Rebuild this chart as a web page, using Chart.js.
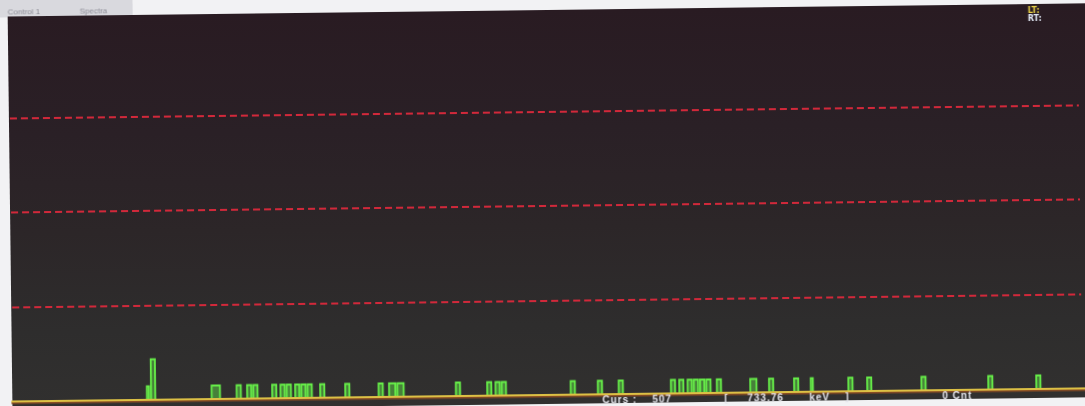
<!DOCTYPE html>
<html>
<head>
<meta charset="utf-8">
<script src="https://cdn.jsdelivr.net/npm/chart.js@4.4.1/dist/chart.umd.min.js"></script>
<style>
  html, body { margin: 0; padding: 0; width: 1085px; height: 406px; overflow: hidden; background: #f2f2f4; }
  #stage { position: absolute; left: 0; top: 0; width: 1085px; height: 406px;
           transform: rotate(-0.7deg); transform-origin: 542px 203px; }
  #tab { position: absolute; left: -10px; top: -12px; width: 145px; height: 23px; background: #d9d9de; }
  #tab span { position: absolute; top: 13px; font: 8px "Liberation Sans", Arial, sans-serif; color: #8a8a94; filter: blur(0.6px); }
  #panel { position: absolute; left: 10px; top: 10px; width: 1100px; height: 394px;
           background: linear-gradient(#291b22 0%, #2a2026 30%, #2c2628 55%, #2e2d2d 80%, #31302f 100%); }
  #chart { position: absolute; left: 0; top: 0; }
  .status { position: absolute; top: 395px; font: bold 10px "Liberation Sans", Arial, sans-serif;
            color: #e4e4ea; white-space: pre; line-height: 11px; letter-spacing: 1px; }
  .rt { position: absolute; font: bold 8px "DejaVu Sans", sans-serif; line-height: 8px; }
</style>
</head>
<body>
<div id="stage">
  <div id="tab"><span style="left:20px">Control 1</span><span style="left:92px">Spectra</span></div>
  <div id="panel"></div>
  <canvas id="chart" width="1085" height="406"></canvas>
  <div class="rt" style="left:1030px; top:13px; color:#e6cf45;">LT:</div>
  <div class="rt" style="left:1030px; top:21px; color:#dfe6f2;">RT:</div>
  <div class="status" style="left:600px;">Curs :</div>
  <div class="status" style="left:650px;">507</div>
  <div class="status" style="left:722px;">[</div>
  <div class="status" style="left:745px;">733.76</div>
  <div class="status" style="left:807px;">keV</div>
  <div class="status" style="left:843px;">]</div>
  <div class="status" style="left:940px;">0 Cnt</div>
</div>
<script>
// Display channels and the runs of channels that registered counts
const channelCount = 512;
const hitStart = [64, 66, 95, 107, 112, 115, 124, 128, 131, 135, 138, 141, 147, 159, 175, 180, 184,
                  212, 227, 231, 234, 267, 280, 290, 315, 319, 323, 326, 329, 332, 337, 353, 362,
                  374, 382, 400, 409, 435, 467, 490];
const hitWidth = [1, 2, 4, 2, 2, 2, 2, 2, 2, 2, 2, 2, 2, 2, 2, 3, 3,
                  2, 2, 2, 2, 2, 2, 2, 2, 2, 2, 2, 2, 2, 2, 3, 2,
                  2, 1, 2, 2, 2, 2, 2];
const hitCount = [1, 3, 1, 1, 1, 1, 1, 1, 1, 1, 1, 1, 1, 1, 1, 1, 1,
                  1, 1, 1, 1, 1, 1, 1, 1, 1, 1, 1, 1, 1, 1, 1, 1,
                  1, 1, 1, 1, 1, 1, 1];
const countMax = 28;
const gridStep = 7;

// Per-channel histogram (channels without a hit stay at zero)
const counts = new Array(channelCount + 1).fill(0);
hitStart.forEach((s, k) => {
  for (let c = s; c < s + hitWidth[k]; c++) counts[c] = hitCount[k];
});
const points = counts.map((v, i) => ({ x: i, y: v }));

// Yellow axis baseline drawn over the bottom of the histogram
const baseline = {
  id: 'baseline',
  afterDatasetsDraw(chart) {
    const { ctx, chartArea, scales } = chart;
    const y0 = scales.y.getPixelForValue(0);
    ctx.save();
    ctx.strokeStyle = '#8a4c22';
    ctx.lineWidth = 1.5;
    ctx.beginPath();
    ctx.moveTo(chartArea.left - 2, y0 + 1.8);
    ctx.lineTo(chart.width + 20, y0 + 1.8);
    ctx.stroke();
    ctx.strokeStyle = '#dcc045';
    ctx.lineWidth = 2;
    ctx.beginPath();
    ctx.moveTo(chartArea.left - 2, y0);
    ctx.lineTo(chart.width + 20, y0);
    ctx.stroke();
    ctx.restore();
  }
};

new Chart(document.getElementById('chart'), {
  type: 'line',
  data: {
    datasets: [{
      data: points,
      stepped: true,
      borderColor: '#66ee48',
      backgroundColor: 'rgba(98,226,70,0.45)',
      borderWidth: 1.8,
      pointRadius: 0,
      fill: 'origin',
      tension: 0
    }]
  },
  options: {
    responsive: false,
    animation: false,
    devicePixelRatio: 1,
    layout: { padding: { left: 11, right: 5, top: 17, bottom: 11 } },
    plugins: { legend: { display: false }, tooltip: { enabled: false } },
    scales: {
      x: {
        type: 'linear', min: 0, max: channelCount,
        ticks: { display: false },
        grid: { display: false },
        border: { display: false },
        afterFit(s) { s.height = 0; }
      },
      y: {
        type: 'linear', min: 0, max: countMax,
        ticks: { display: false, stepSize: gridStep },
        grid: {
          drawTicks: false,
          lineWidth: 2,
          color: (c) => (c.tick && c.tick.value > 0 && c.tick.value < countMax) ? '#d2283a' : 'rgba(0,0,0,0)'
        },
        border: { display: false, dash: [7, 4] },
        afterFit(s) { s.width = 0; }
      }
    }
  },
  plugins: [baseline]
});
</script>
</body>
</html>
